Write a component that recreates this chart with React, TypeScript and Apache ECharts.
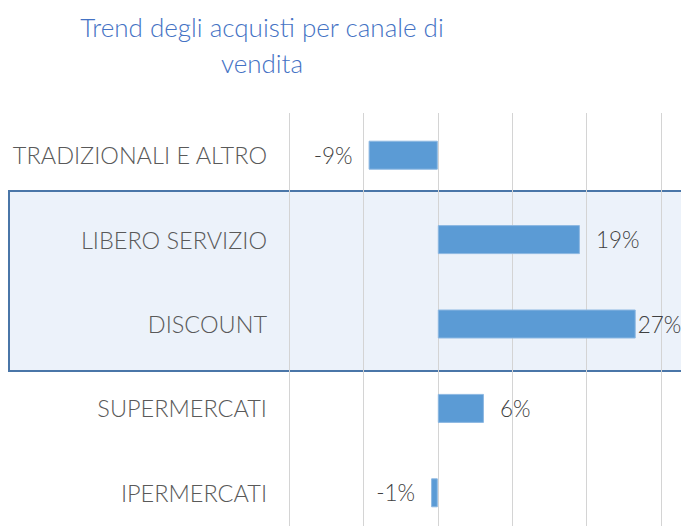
import React, { useEffect, useRef } from "react";
import * as echarts from "echarts";

const categories = ["TRADIZIONALI E ALTRO", "LIBERO SERVIZIO", "DISCOUNT", "SUPERMERCATI", "IPERMERCATI"];
const values = [-9.3, 19.1, 26.6, 6.2, -0.9];
const labelDistances = [16, 16, 2, 16, 16];
const titleText = "Trend degli acquisti per canale di\nvendita";

const FONT = "Lato";

export default function App() {
  const ref = useRef<HTMLDivElement>(null);
  useEffect(() => {
    if (!ref.current) return;
    const chart = echarts.init(ref.current, null, { renderer: "svg" });
    chart.setOption({
      animation: false,
      backgroundColor: "#ffffff",
      title: {
        text: titleText,
        left: 257,
        top: 4,
        textAlign: "center",
        textStyle: {
          color: "#4472c4",
          fontFamily: FONT,
          fontWeight: 300,
          fontSize: 26,
          lineHeight: 36,
        },
      },
      graphic: [
        {
          type: "rect",
          z: -10,
          silent: true,
          shape: { x: 9, y: 191, width: 720, height: 180 },
          style: { fill: "#ecf2fa", stroke: "#4a76a8", lineWidth: 2 },
        },
      ],
      grid: { left: 289, width: 372, top: 113, height: 422, outerBoundsMode: "none" },
      xAxis: {
        type: "value",
        min: -20,
        max: 30,
        interval: 10,
        axisLabel: { show: false },
        axisLine: { show: false },
        axisTick: { show: false },
        splitLine: { show: true, lineStyle: { color: "#d4d4d4", width: 1 } },
      },
      yAxis: {
        type: "category",
        data: categories,
        inverse: true,
        axisLine: { show: false },
        axisTick: { show: false },
        splitLine: { show: false },
        axisLabel: {
          margin: 22,
          color: "#595959",
          fontFamily: FONT,
          fontWeight: 300,
          fontSize: 23.5,
        },
      },
      series: [
        {
          type: "bar",
          barWidth: 29,
          itemStyle: { color: "#5b9bd5", borderColor: "#8db8e2", borderWidth: 1 },
          data: values.map((v, i) => ({
            value: v,
            label: { distance: labelDistances[i], position: v < 0 ? "left" : "right" },
          })),
          label: {
            show: true,
            color: "#404040",
            fontFamily: FONT,
            fontWeight: 300,
            fontSize: 22.5,
            formatter: (p: any) => Math.round(p.value) + "%",
          },
        },
      ],
    });
    return () => chart.dispose();
  }, []);
  return <div ref={ref} style={{ position: "fixed", left: 0, top: 0, width: 681, height: 526 }} />;
}
